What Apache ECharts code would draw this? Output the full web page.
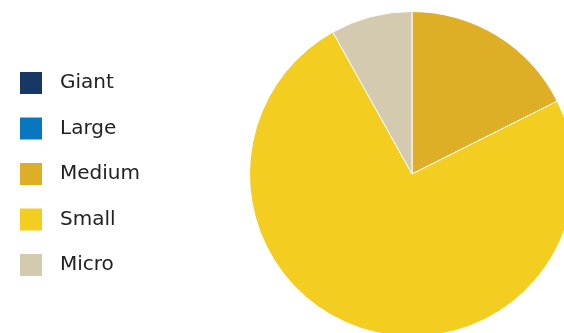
<!DOCTYPE html>
<html><head><meta charset="utf-8">
<script src="https://cdn.jsdelivr.net/npm/echarts@6/dist/echarts.min.js"></script>
<style>html,body{margin:0;padding:0;background:#fff}#c{width:564px;height:333px}</style>
</head><body><div id="c"></div>
<script>
const categories = ['Giant', 'Large', 'Medium', 'Small', 'Micro'];
const values = [0, 0, 17.6, 74.3, 8.1];
const colors = ['#173765', '#0877bd', '#deaf26', '#f3cd1f', '#d3cab0'];

const chart = echarts.init(document.getElementById('c'), null, {renderer: 'canvas'});
chart.setOption({
  animation: false,
  backgroundColor: '#fff',
  color: colors,
  legend: {
    orient: 'vertical',
    left: 15, top: 67,
    itemWidth: 22, itemHeight: 22, itemGap: 23.5,
    icon: 'rect',
    selectedMode: false,
    data: categories,
    itemStyle: {borderWidth: 0},
    textStyle: {fontFamily: 'DejaVu Sans', fontSize: 20, lineHeight: 22, color: '#222', padding: [0, 0, 0, 13]}
  },
  series: [{
    type: 'pie',
    center: [412, 174],
    radius: 162.5,
    startAngle: 90,
    clockwise: true,
    label: {show: false},
    labelLine: {show: false},
    emphasis: {disabled: true},
    itemStyle: {borderColor: '#fff', borderWidth: 1},
    data: categories.map((c, i) => ({name: c, value: values[i]}))
  }]
});
</script></body></html>
